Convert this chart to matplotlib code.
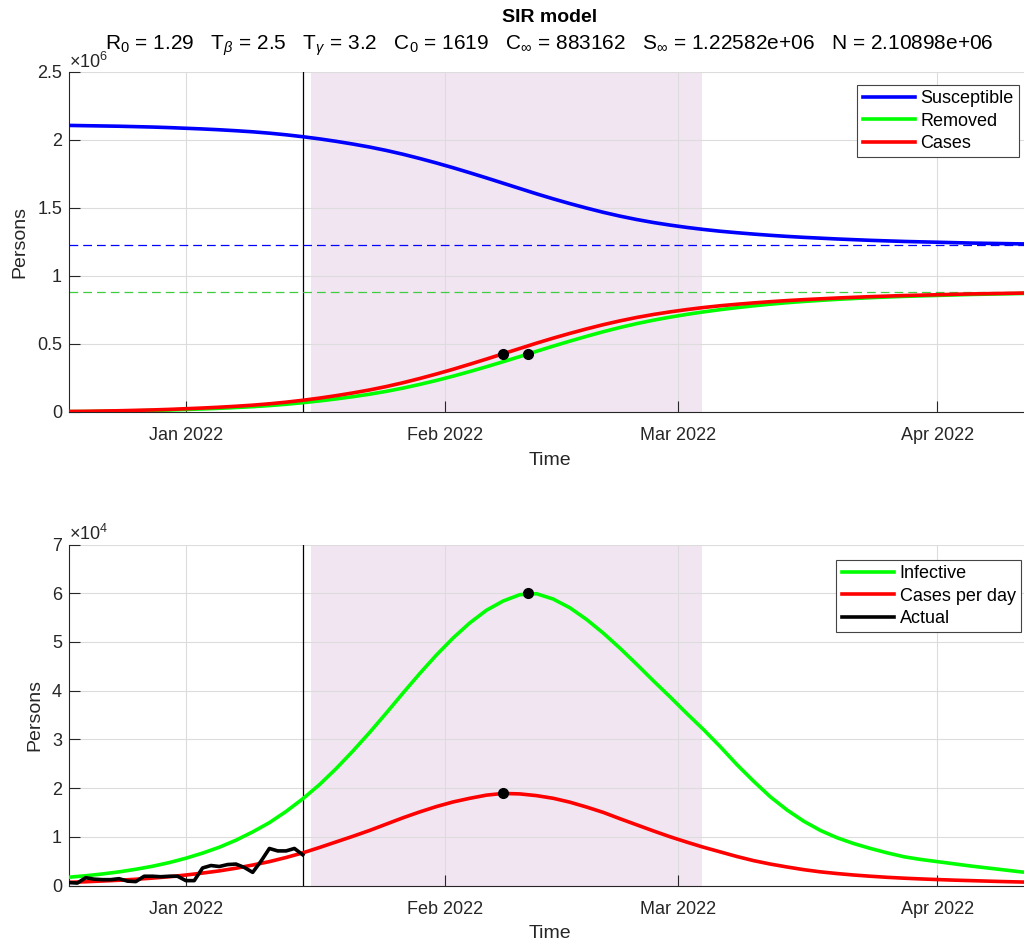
import numpy as np
import matplotlib
matplotlib.use("Agg")
import matplotlib.pyplot as plt
import matplotlib.dates as mdates
from matplotlib.ticker import FixedLocator, FuncFormatter

plt.rcParams['font.family'] = ['Liberation Sans', 'DejaVu Sans']
plt.rcParams['mathtext.fontset'] = 'custom'
plt.rcParams['mathtext.rm'] = 'Liberation Sans'
plt.rcParams['mathtext.it'] = 'Liberation Sans:italic'
plt.rcParams['mathtext.bf'] = 'Liberation Sans:bold'

# ---------------- data (days offset from 2022-01-01) ----------------
model_days = [-14, -12, -10, -8, -6, -4, -2, 0, 2, 4, 6, 8, 10, 12, 14, 16, 18, 20,
              22, 24, 26, 28, 30, 32, 34, 36, 38, 40, 42, 44, 46, 48, 50, 52, 54, 56,
              58, 60, 62, 64, 66, 68, 70, 72, 74, 76, 78, 80, 82, 84, 86, 88, 90, 92,
              94, 96, 98, 100, 101]

# millions of persons
susceptible_m = [2.105, 2.103, 2.101, 2.099, 2.096, 2.093, 2.089, 2.084, 2.079, 2.073,
                 2.066, 2.058, 2.048, 2.036, 2.022, 2.006, 1.988, 1.968, 1.946, 1.921,
                 1.893, 1.862, 1.829, 1.794, 1.757, 1.719, 1.680, 1.641, 1.602, 1.565,
                 1.530, 1.497, 1.466, 1.438, 1.413, 1.391, 1.372, 1.355, 1.340, 1.327,
                 1.316, 1.306, 1.297, 1.289, 1.282, 1.276, 1.270, 1.265, 1.260, 1.256,
                 1.252, 1.249, 1.246, 1.243, 1.240, 1.238, 1.236, 1.234, 1.233]

removed_m = [0.0003, 0.001, 0.0026, 0.0042, 0.0067, 0.009, 0.0123, 0.0164, 0.0203,
             0.0251, 0.0307, 0.037, 0.0451, 0.0548, 0.0662, 0.0793, 0.094, 0.1104,
             0.1286, 0.1496, 0.1735, 0.2005, 0.2297, 0.2612, 0.2951, 0.3305, 0.3676,
             0.4053, 0.4441, 0.4822, 0.519, 0.5544, 0.5882, 0.6193, 0.6476, 0.673,
             0.6953, 0.7157, 0.734, 0.7505, 0.7652, 0.7786, 0.7908, 0.8015, 0.8108,
             0.8187, 0.8262, 0.8324, 0.8384, 0.8433, 0.8481, 0.8516, 0.8551, 0.8585,
             0.862, 0.8644, 0.8668, 0.8692, 0.8703]

cases_m = [0.002, 0.003, 0.005, 0.007, 0.010, 0.013, 0.017, 0.022, 0.027, 0.033, 0.040,
           0.048, 0.058, 0.070, 0.084, 0.100, 0.118, 0.138, 0.160, 0.185, 0.213, 0.244,
           0.277, 0.312, 0.349, 0.387, 0.426, 0.465, 0.504, 0.541, 0.576, 0.609, 0.640,
           0.668, 0.693, 0.715, 0.734, 0.751, 0.766, 0.779, 0.790, 0.800, 0.809, 0.817,
           0.824, 0.830, 0.836, 0.841, 0.846, 0.850, 0.854, 0.857, 0.860, 0.863, 0.866,
           0.868, 0.870, 0.872, 0.873]

# tens of thousands of persons
infective_10k = [0.170, 0.200, 0.237, 0.280, 0.333, 0.395, 0.470, 0.560, 0.665, 0.785,
                 0.93, 1.10, 1.29, 1.52, 1.78, 2.07, 2.40, 2.76, 3.14, 3.54, 3.95, 4.35,
                 4.73, 5.08, 5.39, 5.65, 5.84, 5.97, 5.99, 5.88, 5.70, 5.46, 5.18, 4.87,
                 4.54, 4.20, 3.87, 3.53, 3.20, 2.85, 2.48, 2.14, 1.82, 1.55, 1.32, 1.13,
                 0.98, 0.86, 0.76, 0.67, 0.59, 0.535, 0.49, 0.445, 0.40, 0.36, 0.32,
                 0.28, 0.265]

cases_per_day_10k = [0.065, 0.077, 0.092, 0.108, 0.128, 0.152, 0.18, 0.215, 0.255, 0.30,
                     0.355, 0.42, 0.49, 0.575, 0.67, 0.78, 0.895, 1.01, 1.13, 1.26, 1.39,
                     1.51, 1.62, 1.715, 1.79, 1.855, 1.89, 1.88, 1.845, 1.79, 1.71, 1.61,
                     1.50, 1.37, 1.245, 1.12, 1.00, 0.89, 0.785, 0.69, 0.595, 0.51, 0.44,
                     0.38, 0.325, 0.28, 0.245, 0.215, 0.19, 0.168, 0.15, 0.135, 0.122,
                     0.11, 0.10, 0.09, 0.08, 0.072, 0.068]

actual_days = list(range(-14, 15))
actual = [600, 500, 1600, 1300, 1200, 1200, 1400, 900, 800, 1900, 1900, 1800, 1900,
          1900, 1000, 1000, 3600, 4100, 3900, 4300, 4400, 3700, 2700, 5000, 7600,
          7100, 7100, 7600, 6300]

S_inf = 1.22582e6
C_inf = 883162

cases_dot_day, cases_dot_val = 38, 0.423e6
removed_dot_day, removed_dot_val = 41, 0.423e6
inf_peak_day, inf_peak_val = 41, 60100
cpd_peak_day, cpd_peak_val = 38, 18900

cutoff_day = 14
shade_start_day, shade_end_day = 15, 61.8

month_ticks = ['2022-01-01', '2022-02-01', '2022-03-01', '2022-04-01']
xlim_days = (-14, 101.1)

subtitle = (r"R$_0$ = 1.29   T$_\beta$ = 2.5   T$_\gamma$ = 3.2   C$_0$ = 1619   "
            r"C$_\infty$ = 883162   S$_\infty$ = 1.22582e+06   N = 2.10898e+06")

# ---------------- helpers ----------------
base = np.datetime64('2022-01-01T00:00')


def to_date(d):
    return (base + (np.asarray(d, dtype=float) * 24 * 60).astype('timedelta64[m]')).astype('datetime64[m]')


tdays = to_date(model_days)
adays = to_date(actual_days)
susceptible = np.array(susceptible_m) * 1e6
removed = np.array(removed_m) * 1e6
cases = np.array(cases_m) * 1e6
infective = np.array(infective_10k) * 1e4
cases_per_day = np.array(cases_per_day_10k) * 1e4

W, H = 1024, 943
fig = plt.figure(figsize=(W / 100, H / 100), dpi=100)

axcol = '#262626'
ax_left = 69 / W
ax_width = 961 / W
ax1 = fig.add_axes([ax_left, 1 - 411.7 / H, ax_width, 340 / H])
ax2 = fig.add_axes([ax_left, 1 - 885.5 / H, ax_width, 341 / H])

shade_col = (0.5, 0.0, 0.5, 0.10)


def style(ax, ymax, step, scale, exp_text):
    ax.set_xlim(to_date(xlim_days[0]), to_date(xlim_days[1]))
    ax.set_ylim(0, ymax)
    ax.axvspan(to_date(shade_start_day), to_date(shade_end_day), color=shade_col, lw=0, zorder=0)
    ax.axvline(to_date(cutoff_day), color='black', lw=0.9, zorder=1)
    ax.xaxis.set_major_locator(FixedLocator(mdates.date2num(np.array(month_ticks, dtype='datetime64[D]'))))
    ax.xaxis.set_major_formatter(mdates.DateFormatter('%b %Y'))
    ax.yaxis.set_major_locator(FixedLocator(np.arange(0, ymax + step / 2, step)))
    ax.yaxis.set_major_formatter(FuncFormatter(lambda v, p: f"{v / scale:g}"))
    ax.grid(True, color='#dcdcdc', lw=0.8, zorder=0.5)
    ax.set_axisbelow(True)
    for s in ['top', 'right']:
        ax.spines[s].set_visible(False)
    for s in ['left', 'bottom']:
        ax.spines[s].set_color(axcol)
        ax.spines[s].set_linewidth(0.8)
    ax.tick_params(direction='in', length=8, width=0.8, colors=axcol, labelsize=13)
    ax.tick_params(axis='x', pad=11)
    ax.tick_params(axis='y', pad=5)
    ax.set_xlabel('Time', fontsize=14, color=axcol, labelpad=5.5)
    ax.set_ylabel('Persons', fontsize=14, color=axcol, labelpad=6.5)
    ax.text(0.0, 1.0, exp_text, transform=ax.transAxes, fontsize=13, color=axcol,
            ha='left', va='bottom')


style(ax1, 2.5e6, 0.5e6, 1e6, r'$\times$10$^6$')
style(ax2, 7e4, 1e4, 1e4, r'$\times$10$^4$')

lw = 2.6
ax1.axhline(S_inf, color=(0, 0, 1), lw=0.9, ls=(0, (7, 4)), zorder=2)
ax1.axhline(C_inf, color=(0.25, 0.8, 0.25), lw=0.9, ls=(0, (7, 4)), zorder=2)
ax1.plot(tdays, susceptible, color=(0, 0, 1), lw=lw, label='Susceptible', zorder=3)
ax1.plot(tdays, removed, color=(0, 1, 0), lw=lw, label='Removed', zorder=3)
ax1.plot(tdays, cases, color=(1, 0, 0), lw=lw, label='Cases', zorder=3)
ax1.plot(to_date([cases_dot_day, removed_dot_day]), [cases_dot_val, removed_dot_val],
         'o', color='black', ms=7, zorder=4)

ax2.plot(tdays, infective, color=(0, 1, 0), lw=lw, label='Infective', zorder=3)
ax2.plot(tdays, cases_per_day, color=(1, 0, 0), lw=lw, label='Cases per day', zorder=3)
ax2.plot(adays, actual, color='black', lw=lw, label='Actual', zorder=3.5)
ax2.plot(to_date([inf_peak_day, cpd_peak_day]), [inf_peak_val, cpd_peak_val],
         'o', color='black', ms=7, zorder=4)

leg_kw = dict(fontsize=13, frameon=True, fancybox=False, framealpha=1, edgecolor='#444444',
              handlelength=2.9, handletextpad=0.3, borderpad=0.3, labelspacing=0.29,
              borderaxespad=0, loc='upper right')
l1 = ax1.legend(bbox_to_anchor=(1019 / W, 1 - 85 / H), bbox_transform=fig.transFigure, **leg_kw)
l2 = ax2.legend(bbox_to_anchor=(1021 / W, 1 - 560 / H), bbox_transform=fig.transFigure, **leg_kw)
for l in (l1, l2):
    l.get_frame().set_linewidth(0.8)

cx = ax_left + ax_width / 2
fig.text(cx, 1 - 17 / H, 'SIR model', ha='center', va='center', fontsize=14, fontweight='bold', color='black')
fig.text(cx, 1 - 46 / H, subtitle, ha='center', va='center', fontsize=15, color='black')

fig.savefig('out.png', dpi=100)
